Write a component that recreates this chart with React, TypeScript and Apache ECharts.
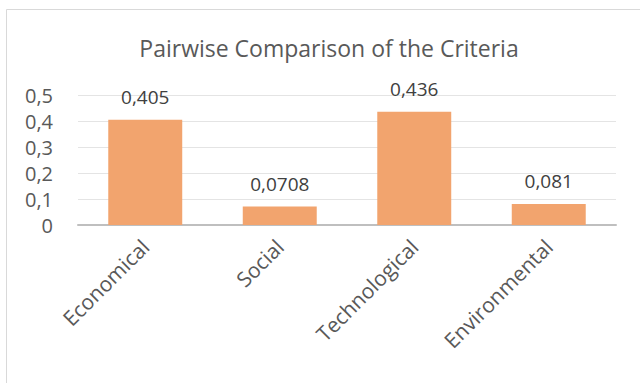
import React, { useEffect, useRef } from "react";
import * as echarts from "echarts";

const categories = ["Economical", "Social", "Technological", "Environmental"];
const values = [0.405, 0.0708, 0.436, 0.081];
const valueLabels = ["0,405", "0,0708", "0,436", "0,081"];
const yTicks = [0, 0.1, 0.2, 0.3, 0.4, 0.5];

const FONT = "'Open Sans', sans-serif";

export default function App() {
  const ref = useRef<HTMLDivElement>(null);
  useEffect(() => {
    if (!ref.current) return;
    const chart = echarts.init(ref.current, undefined, { renderer: "svg" });
    chart.setOption({
      animation: false,
      backgroundColor: "#ffffff",
      title: {
        text: "Pairwise Comparison of the Criteria",
        left: 324,
        top: 31,
        textAlign: "center",
        textStyle: { fontFamily: FONT, fontSize: 23, fontWeight: "normal", color: "#595959" },
      },
      graphic: [
        {
          type: "rect",
          shape: { x: 6.5, y: 9.5, width: 700, height: 500 },
          style: { fill: "none", stroke: "#D9D9D9", lineWidth: 1 },
          silent: true,
          z: -1,
        },
      ],
      grid: { left: 78, right: 24, top: 95, bottom: 158, containLabel: false },
      xAxis: {
        type: "category",
        data: categories,
        axisLine: { lineStyle: { color: "#BFBFBF", width: 2 } },
        axisTick: { show: false },
        axisLabel: {
          rotate: 45,
          interval: 0,
          margin: 18,
          fontFamily: FONT,
          fontSize: 21,
          color: "#595959",
        },
      },
      yAxis: {
        type: "value",
        min: 0,
        max: yTicks[yTicks.length - 1],
        interval: 0.1,
        axisLine: { show: false },
        axisTick: { show: false },
        splitLine: { lineStyle: { color: "#E4E4E4", width: 1 } },
        axisLabel: {
          margin: 25,
          fontFamily: FONT,
          fontSize: 20,
          color: "#595959",
          formatter: (v: number) => (v === 0 ? "0" : v.toFixed(1).replace(".", ",")),
        },
      },
      series: [
        {
          type: "bar",
          data: values,
          barWidth: "55%",
          itemStyle: { color: "#F2A46E" },
          label: {
            show: true,
            position: "top",
            distance: 13,
            fontFamily: FONT,
            fontSize: 19,
            color: "#404040",
            formatter: (p: any) => valueLabels[p.dataIndex],
          },
        },
      ],
    });
    return () => chart.dispose();
  }, []);
  return (
    <div
      ref={ref}
      style={{ position: "absolute", left: 0, top: 0, width: 640, height: 383 }}
    />
  );
}
